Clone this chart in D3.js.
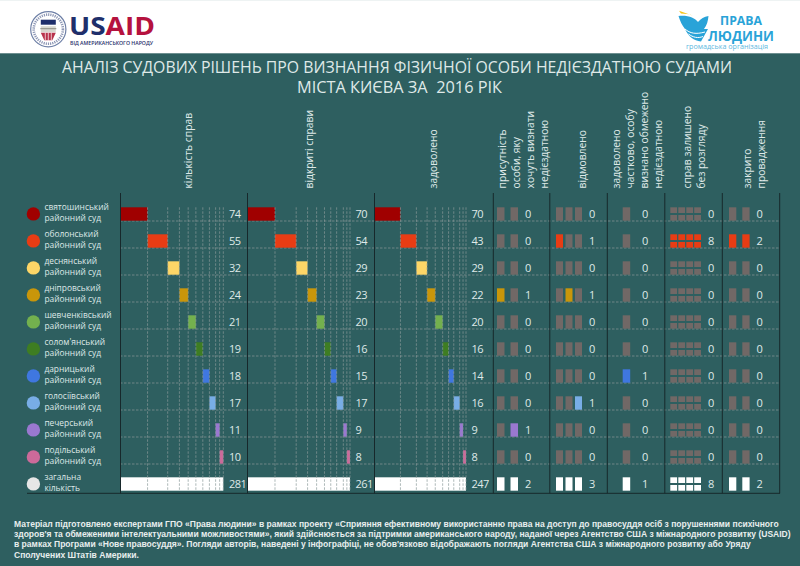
<!DOCTYPE html>
<html>
<head>
<meta charset="utf-8">
<script src="https://cdnjs.cloudflare.com/ajax/libs/d3/7.8.5/d3.min.js"></script>
<style>
  html, body { margin: 0; padding: 0; background: #2e5f60; }
  svg { display: block; }
  text { font-family: "Open Sans", sans-serif; }
</style>
</head>
<body>
<svg id="chart" width="800" height="566"></svg>
<script>
const courts = ['святошинський', 'оболонський', 'деснянський', 'дніпровський', 'шевченківський', "солом'янський", 'дарницький', 'голосіївський', 'печерський', 'подільський']
const courtColours = ['#a00000', '#e83c14', '#fdd667', '#c9960a', '#73b04e', '#3e7d22', '#3f77e0', '#78ade6', '#9a78d0', '#cc6a9a']
const totalLabel = ['загальна', 'кількість']
const totalColour = '#e6e6e6'

const cases = [74, 55, 32, 24, 21, 19, 18, 17, 11, 10]
const opened = [70, 54, 29, 23, 20, 16, 15, 17, 9, 8]
const granted = [70, 43, 29, 22, 20, 16, 14, 16, 9, 8]
const presence = [0, 0, 0, 1, 0, 0, 0, 0, 1, 0]
const refused = [0, 1, 0, 1, 0, 0, 0, 1, 0, 0]
const partly = [0, 0, 0, 0, 0, 0, 1, 0, 0, 0]
const noReview = [0, 8, 0, 0, 0, 0, 0, 0, 0, 0]
const closed = [0, 2, 0, 0, 0, 0, 0, 0, 0, 0]

const wideHeads = [['кількість справ'], ['відкриті справи'], ['задоволено']]
const unitHeads = [
  ['присутність', 'особи, яку', 'хочуть визнати', 'недієздатною'],
  ['відмовлено'],
  ['задоволено', 'частково, особу', 'визнано обмежено', 'недієздатною'],
  ['справ залишено', 'без розгляду'],
  ['закрито', 'провадження']
]
const titleLines = ['АНАЛІЗ СУДОВИХ РІШЕНЬ ПРО ВИЗНАННЯ ФІЗИЧНОЇ ОСОБИ НЕДІЄЗДАТНОЮ СУДАМИ', 'МІСТА КИЄВА ЗА  2016 РІК']
const footerLines = [
  'Матеріал підготовлено експертами ГПО «Права людини» в рамках проекту «Сприяння ефективному використанню права на доступ до правосуддя осіб з порушеннями психічного',
  "здоров'я та обмеженими інтелектуальними можливостями», який здійснюється за підтримки американського народу, наданої через Агентство США з міжнародного розвитку (USAID)",
  "в рамках Програми «Нове правосуддя». Погляди авторів, наведені у інфографіці, не обов'язково відображають погляди Агентства США з міжнародного розвитку або Уряду",
  'Сполучених Штатів Америки.'
]

const bg = '#2e5f60'
const emptyColour = '#716866'
const gridColour = '#8a9a9a'
const textColour = '#dfe9e8'
const blue = '#29a3d8'

const svg = d3.select('#chart')
svg.append('rect').attr('width', 800).attr('height', 566).attr('fill', bg)

// header
svg.append('rect').attr('width', 800).attr('height', 53.3).attr('fill', '#fff')
svg.append('rect').attr('width', 800).attr('height', 1).attr('fill', '#eef3f3')

// usaid seal
const seal = svg.append('g').attr('transform', 'translate(48.3,29.2)')
seal.append('circle').attr('r', 17.6).attr('fill', '#fff').attr('stroke', '#6d7fa6').attr('stroke-width', 1.2)
seal.append('circle').attr('r', 14.6).attr('fill', 'none').attr('stroke', '#8d97b5').attr('stroke-width', 2.6).attr('stroke-dasharray', '1.2 1')
seal.append('rect').attr('x', -7.5).attr('y', -9.5).attr('width', 15).attr('height', 5).attr('fill', '#1f2f6b')
seal.append('path').attr('d', 'M-7.5,-3 H7.5 V3 H-7.5 Z').attr('fill', '#d8d8d0')
seal.append('path').attr('d', 'M-8,-0.5 H8').attr('stroke', '#8f8f86').attr('stroke-width', 1)
seal.append('path').attr('d', 'M-7.5,3.5 H7.5 L4,11 H-4 Z').attr('fill', '#b8334c')
seal.append('path').attr('d', 'M-3,3.5 V11 M0,3.5 V11.5 M3,3.5 V11').attr('stroke', '#fff').attr('stroke-width', 0.7)

svg.append('text').attr('x', 69).attr('y', 35).attr('font-size', 25.5).attr('font-weight', 700)
  .attr('textLength', 86).attr('lengthAdjust', 'spacingAndGlyphs')
  .html('<tspan fill="#1f2f6b">US</tspan><tspan fill="#b5123e">AID</tspan>')
svg.append('text').attr('x', 70).attr('y', 44.6).attr('font-size', 5.8).attr('font-weight', 600).attr('fill', '#1f2f6b')
  .attr('textLength', 83).attr('lengthAdjust', 'spacingAndGlyphs').text('ВІД АМЕРИКАНСЬКОГО НАРОДУ')

// bird logo
svg.append('path').attr('d', 'M679,10.7 L693,15.7 C689,13.5 685,14 681,13.5 Z').attr('fill', '#f5c518')
svg.append('path').attr('d', 'M678.5,16 C688,15 695,18 698,22 C701,19 704,16.5 708.5,16 C708,21 707,25 704,29 L708,29 L701,41.5 C694,41 688,36 685,29 C682,25 680,21 678.5,16 Z').attr('fill', blue)
svg.append('path').attr('d', 'M685,29 C690,33.5 696,34.5 705,32 M688.5,34 C693,37.5 698,38.5 703,36.5').attr('fill', 'none').attr('stroke', '#fff').attr('stroke-width', 1)
svg.append('text').attr('x', 720).attr('y', 25.3).attr('font-size', 11.5).attr('font-weight', 700).attr('fill', blue)
  .attr('textLength', 42).attr('lengthAdjust', 'spacingAndGlyphs').text('ПРАВА')
svg.append('text').attr('x', 708).attr('y', 40.7).attr('font-size', 15).attr('font-weight', 700).attr('fill', blue)
  .attr('textLength', 66).attr('lengthAdjust', 'spacingAndGlyphs').text('ЛЮДИНИ')
svg.append('text').attr('x', 686).attr('y', 49).attr('font-size', 6.8).attr('fill', '#5db8e0')
  .attr('textLength', 82).attr('lengthAdjust', 'spacingAndGlyphs').text('громадська організація')

// title
svg.selectAll('.title').data(titleLines).join('text').attr('class', 'title')
  .attr('x', (d, i) => i === 0 ? 62 : 297).attr('y', (d, i) => 72.7 + i * 20.6)
  .attr('font-size', 16.4).attr('fill', textColour)
  .attr('textLength', (d, i) => i === 0 ? 670 : 205).attr('lengthAdjust', 'spacingAndGlyphs')
  .style('white-space', 'pre').text(d => d)

// row scale, one band for every court and the total row
const rowNames = courts.concat(['total'])
const y = d3.scalePoint().domain(rowNames).range([207.3, 477.3])
const barH = 13.4

// legend
const legend = svg.selectAll('.legend').data(rowNames).join('g').attr('class', 'legend')
  .attr('transform', d => `translate(0,${y(d)})`)
legend.append('circle').attr('cx', 33.4).attr('cy', 6.6).attr('r', 6.7)
  .attr('fill', (d, i) => i < courts.length ? courtColours[i] : totalColour)
legend.append('text').attr('x', 44.4).attr('y', 2.4).attr('font-size', 8.4).attr('fill', textColour)
  .text(d => d === 'total' ? totalLabel[0] : d)
legend.append('text').attr('x', 44.4).attr('y', 13.6).attr('font-size', 8.4).attr('fill', textColour)
  .text(d => d === 'total' ? totalLabel[1] : 'районний суд')

// row lines
svg.selectAll('.row-line').data(courts).join('line').attr('class', 'row-line')
  .attr('x1', 120).attr('x2', 780).attr('y1', d => y(d) + barH + 0.3).attr('y2', d => y(d) + barH + 0.3)
  .attr('stroke', gridColour).attr('stroke-width', 0.7).attr('stroke-dasharray', '2.5 1.5')

const numStyle = sel => sel.attr('font-size', 11).attr('letter-spacing', -0.6).attr('fill', textColour)

// wide columns: each court's bar starts where the previous one stopped
const wideColumns = [
  { values: cases, x0: 120.5, x1: 223.3, labelX: 229 },
  { values: opened, x0: 247.5, x1: 350, labelX: 355.5 },
  { values: granted, x0: 374.5, x1: 466, labelX: 471.5 }
]
wideColumns.forEach(col => {
  const total = d3.sum(col.values)
  const x = d3.scaleLinear().domain([0, total]).range([col.x0, col.x1])
  const cumulative = d3.cumsum(col.values)
  const g = svg.append('g')

  g.selectAll('.total-bar').data([total]).join('rect')
    .attr('x', x(0)).attr('y', y('total')).attr('width', d => x(d) - x(0)).attr('height', barH).attr('fill', '#fff')

  g.selectAll('.bar').data(col.values).join('rect')
    .attr('x', (d, i) => x(cumulative[i] - d)).attr('y', (d, i) => y(courts[i]))
    .attr('width', d => x(d) - x(0)).attr('height', barH)
    .attr('fill', (d, i) => courtColours[i])

  g.selectAll('.step').data(cumulative).join('line')
    .attr('x1', d => x(d)).attr('x2', d => x(d))
    .attr('y1', y(courts[0])).attr('y2', y('total') + barH)
    .attr('stroke', gridColour).attr('stroke-width', 0.7).attr('stroke-dasharray', '2.5 1.5')

  g.selectAll('.num').data(col.values.concat([total])).join('text')
    .attr('x', col.labelX).attr('y', (d, i) => y(rowNames[i]) + 10.8)
    .call(numStyle).text(d => d)
})

// unit columns: one small block per case, filled in order down the courts
const unitColumns = [
  { values: presence, units: [497, 510.5], w: 7.5, labelX: 525 },
  { values: refused, units: [556, 565.5, 575], w: 7, labelX: 589 },
  { values: partly, units: [622.7], w: 7.5, labelX: 642 },
  { values: noReview, units: [670.3, 678.3, 686.3, 694.2], w: 6.8, rows: 2, labelX: 708 },
  { values: closed, units: [729, 742.3], w: 7.3, labelX: 756.5 }
]
unitColumns.forEach(col => {
  const rows = col.rows || 1
  const total = d3.sum(col.values)
  const g = svg.append('g')
  const blocks = d3.range(col.units.length * rows)
  const blockH = (barH - (rows - 1) * 2) / rows
  let used = 0

  rowNames.forEach((name, r) => {
    const isTotal = name === 'total'
    const from = used
    const v = isTotal ? total : col.values[r]
    if (!isTotal) used += v
    g.selectAll(null).data(blocks).join('rect')
      .attr('x', d => col.units[d % col.units.length])
      .attr('y', d => y(name) + Math.floor(d / col.units.length) * (blockH + 2))
      .attr('width', col.w).attr('height', blockH)
      .attr('fill', d => {
        if (isTotal) return '#fff'
        return (d >= from && d < from + v) ? courtColours[r] : emptyColour
      })
    g.append('text').attr('x', col.labelX).attr('y', y(name) + 10.8)
      .call(numStyle).text(v)
  })
})

// column separators
const separators = [120.5, 247.5, 374.5, 493.3, 549.8, 607.3, 664.8, 722.3, 779.7]
svg.selectAll('.sep').data(separators).join('line').attr('class', 'sep')
  .attr('x1', d => d).attr('x2', d => d).attr('y1', 193).attr('y2', 493.3)
  .attr('stroke', '#17282b').attr('stroke-width', 1)
svg.append('line').attr('x1', 27).attr('x2', 780).attr('y1', 493.3).attr('y2', 493.3).attr('stroke', '#17282b').attr('stroke-width', 1)

// rotated headers
const headFont = 10.3
function head(lines, xs) {
  lines.forEach((t, i) => {
    svg.append('text').attr('transform', `translate(${xs[i]},188.5) rotate(-90)`)
      .attr('font-size', headFont).attr('fill', textColour).text(t)
  })
}
head(wideHeads[0], [191.5])
head(wideHeads[1], [313])
head(wideHeads[2], [437])
head(unitHeads[0], [505.5, 520, 534, 547.5])
head(unitHeads[1], [585.5])
head(unitHeads[2], [620, 634, 647.5, 661.5])
head(unitHeads[3], [690.5, 705])
head(unitHeads[4], [750.5, 764.5])

// footer
svg.selectAll('.foot').data(footerLines).join('text').attr('class', 'foot')
  .attr('x', 14).attr('y', (d, i) => 526.8 + i * 10.3)
  .attr('font-size', 8.54).attr('font-weight', 700).attr('fill', '#e8eeee')
  .style('font-family', '"Liberation Sans", Arial, sans-serif').text(d => d)
</script>
</body>
</html>
